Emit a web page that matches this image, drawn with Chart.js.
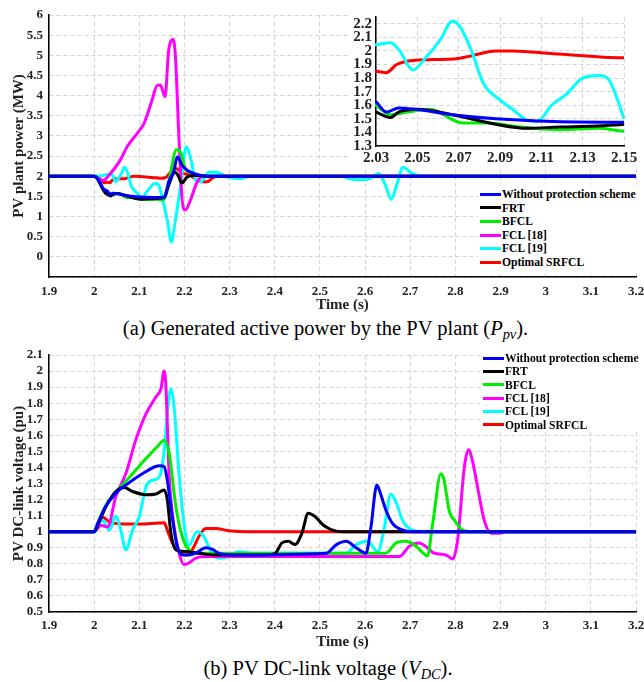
<!DOCTYPE html>
<html>
<head>
<meta charset="utf-8">
<script src="https://cdn.jsdelivr.net/npm/chart.js@4.4.0/dist/chart.umd.min.js"></script>
<style>
    body { margin: 0; background: #fff; }
    #wrap { position: relative; width: 644px; height: 682px; overflow: hidden; font-family: 'Liberation Serif', 'Times New Roman', serif; }
    canvas { position: absolute; }
    .caption { position: absolute; text-align: center; font-size: 20.5px; line-height: 1; white-space: nowrap; }
    .caption sub { font-size: 0.7em; vertical-align: -0.25em; line-height: 0; }
    .legend { position: absolute; background: #fff; font-weight: bold; font-size: 11.6px; }
    .legend .row { position: absolute; height: 14px; line-height: 14px; white-space: nowrap; }
    .legend .swatch { display: inline-block; width: 21px; height: 3px; vertical-align: middle; margin-right: 1px; position: relative; top: -1px; }
</style>
</head>
<body>
<div id="wrap">
    <canvas id="pv-chart" width="644" height="316" style="left:0;top:0"></canvas>
    <div class="legend" id="pv-legend" style="left:478px;top:185px;width:166px;height:87px"></div>
    <canvas id="inset-chart" width="292" height="151" style="left:348px;top:14px;background:#fff"></canvas>
    <div class="caption" style="left:0;width:651px;top:318px">(a) Generated active power by the PV plant (<i>P</i><sub><i>pv</i></sub>).</div>

    <canvas id="dc-chart" width="644" height="320" style="left:0;top:336px"></canvas>
    <div class="legend" id="dc-legend" style="left:480px;top:350px;width:164px;height:82px"></div>
    <div class="caption" style="left:0;width:656px;top:658px">(b) PV DC-link voltage (<i>V</i><sub><i>DC</i></sub>).</div>
</div>

<script>
const SERIES_NAMES = ['Without protection scheme', 'FRT', 'BFCL', 'FCL [18]', 'FCL [19]', 'Optimal SRFCL'];
const SERIES_COLORS = ['#0000ff', '#000000', '#00ee00', '#ff00ff', '#00ffff', '#ff0000'];

// tick labels
const TIME_TICKS = [1.9, 2, 2.1, 2.2, 2.3, 2.4, 2.5, 2.6, 2.7, 2.8, 2.9, 3, 3.1, 3.2];
const PV_TICKS = [-0.5, 0, 0.5, 1, 1.5, 2, 2.5, 3, 3.5, 4, 4.5, 5, 5.5, 6];
const DC_TICKS = [0.5, 0.6, 0.7, 0.8, 0.9, 1, 1.1, 1.2, 1.3, 1.4, 1.5, 1.6, 1.7, 1.8, 1.9, 2, 2.1];
const INSET_TIME_TICKS = [2.03, 2.05, 2.07, 2.09, 2.11, 2.13, 2.15];
const INSET_PV_TICKS = [1.3, 1.4, 1.5, 1.6, 1.7, 1.8, 1.9, 2, 2.1, 2.2];

// (a) PV plant power, MW
const pBlueT = [1.9, 2.0, 2.005, 2.01, 2.02, 2.03, 2.035, 2.041, 2.049, 2.067, 2.088, 2.116, 2.15, 2.156, 2.165, 2.177, 2.184, 2.195, 2.206, 2.221, 2.25, 3.2];
const pBlueY = [2, 2, 1.98, 1.9, 1.7, 1.625, 1.55, 1.58, 1.57, 1.53, 1.50, 1.48, 1.475, 1.49, 1.86, 2.15, 2.48, 2.27, 2.15, 2.07, 2.0, 2.0];

const pBlackT = [1.9, 2.0, 2.007, 2.018, 2.025, 2.03, 2.037, 2.041, 2.05, 2.067, 2.088, 2.103, 2.119, 2.15, 2.156, 2.165, 2.179, 2.186, 2.194, 2.206, 2.221, 2.25, 3.2];
const pBlackY = [2, 2, 1.94, 1.7, 1.58, 1.55, 1.51, 1.55, 1.57, 1.53, 1.46, 1.43, 1.44, 1.46, 1.49, 1.78, 2.1, 2.02, 1.83, 1.98, 2.02, 2.0, 2.0];

const pGreenT = [1.9, 2.0, 2.008, 2.02, 2.03, 2.037, 2.045, 2.056, 2.072, 2.084, 2.1, 2.119, 2.138, 2.15, 2.158, 2.169, 2.182, 2.191, 2.202, 2.217, 2.243, 3.2];
const pGreenY = [2, 2, 1.93, 1.68, 1.6, 1.53, 1.55, 1.57, 1.47, 1.47, 1.44, 1.42, 1.43, 1.41, 1.49, 2.07, 2.66, 2.6, 2.19, 2.07, 2.0, 2.0];

const pMagentaT = [1.9, 2.0, 2.01, 2.02, 2.036, 2.058, 2.073, 2.095, 2.11, 2.128, 2.14, 2.147, 2.157, 2.165, 2.175, 2.18, 2.188, 2.195, 2.202, 2.213, 2.227, 2.24, 3.2];
const pMagentaY = [2, 2, 1.95, 1.9, 2.07, 2.4, 2.73, 3.06, 3.3, 3.88, 4.26, 4.26, 3.97, 5.12, 5.39, 4.96, 2.9, 1.4, 1.16, 1.4, 1.83, 2.0, 2.0];

const pCyanT = [1.9, 2.0, 2.02, 2.03, 2.037, 2.041, 2.048, 2.054, 2.061, 2.067, 2.071, 2.076, 2.082, 2.09, 2.097, 2.103, 2.108, 2.115, 2.122, 2.13, 2.138, 2.143, 2.15, 2.162, 2.171, 2.18, 2.191, 2.204, 2.213, 2.225, 2.236, 2.254, 2.27, 2.295, 2.324, 2.346, 2.55, 2.563, 2.59, 2.612, 2.63, 2.645, 2.658, 2.67, 2.684, 2.704, 2.729, 3.2];
const pCyanY = [2, 2, 2.02, 2.045, 2.06, 2.01, 1.86, 1.95, 2.08, 2.22, 2.17, 2.01, 1.76, 1.64, 1.56, 1.49, 1.48, 1.6, 1.68, 1.8, 1.82, 1.78, 1.5, 0.91, 0.37, 0.91, 1.74, 2.73, 2.48, 1.9, 1.86, 2.1, 2.1, 1.98, 1.94, 2.0, 2.0, 1.95, 1.91, 1.95, 2.07, 1.78, 1.43, 1.78, 2.22, 2.07, 2.0, 2.0];

const pRedT = [1.9, 2.0, 2.01, 2.021, 2.03, 2.035, 2.04, 2.048, 2.067, 2.075, 2.088, 2.096, 2.116, 2.15, 2.16, 2.169, 2.18, 2.195, 2.213, 2.236, 2.25, 2.265, 2.28, 3.2];
const pRedY = [2, 2, 1.95, 1.84, 1.85, 1.84, 1.9, 1.93, 1.94, 1.96, 2.0, 2.0, 1.98, 1.95, 1.98, 2.1, 2.2, 2.08, 2.02, 1.86, 1.86, 1.98, 2.0, 2.0];

// (b) DC-link voltage, pu
const vBlueT = [1.9, 2.0, 2.008, 2.023, 2.048, 2.085, 2.115, 2.144, 2.155, 2.162, 2.173, 2.184, 2.195, 2.21, 2.225, 2.247, 2.262, 2.276, 2.306, 2.514, 2.536, 2.558, 2.58, 2.602, 2.613, 2.626, 2.635, 2.646, 2.661, 2.683, 2.704, 3.2];
const vBlueY = [1, 1, 1.05, 1.145, 1.24, 1.32, 1.375, 1.41, 1.405, 1.32, 1.09, 0.91, 0.855, 0.855, 0.866, 0.9, 0.89, 0.866, 0.855, 0.866, 0.918, 0.94, 0.9, 0.866, 1.03, 1.29, 1.23, 1.135, 1.05, 1.01, 1.0, 1.0];

const vBlackT = [1.9, 2.0, 2.008, 2.026, 2.048, 2.067, 2.085, 2.115, 2.137, 2.155, 2.162, 2.17, 2.181, 2.203, 2.232, 2.269, 2.379, 2.401, 2.416, 2.43, 2.445, 2.46, 2.474, 2.489, 2.508, 2.528, 2.55, 3.2];
const vBlackY = [1, 1, 1.04, 1.155, 1.25, 1.275, 1.25, 1.23, 1.235, 1.26, 1.2, 0.99, 0.887, 0.876, 0.866, 0.855, 0.855, 0.866, 0.93, 0.94, 0.92, 0.99, 1.115, 1.095, 1.04, 1.01, 1.0, 1.0];

const vGreenT = [1.9, 2.0, 2.012, 2.026, 2.056, 2.085, 2.115, 2.14, 2.155, 2.166, 2.181, 2.195, 2.21, 2.232, 2.646, 2.669, 2.69, 2.713, 2.738, 2.75, 2.768, 2.775, 2.786, 2.801, 2.816, 2.835, 3.2];
const vGreenY = [1, 1, 1.08, 1.165, 1.27, 1.36, 1.455, 1.53, 1.57, 1.49, 1.155, 0.97, 0.887, 0.866, 0.866, 0.93, 0.94, 0.91, 0.85, 1.055, 1.36, 1.32, 1.135, 1.06, 1.01, 1.0, 1.0];

const vMagentaT = [1.9, 2.0, 2.015, 2.03, 2.048, 2.07, 2.092, 2.115, 2.137, 2.148, 2.155, 2.159, 2.166, 2.177, 2.188, 2.199, 2.21, 2.225, 2.247, 2.676, 2.698, 2.72, 2.738, 2.753, 2.779, 2.794, 2.805, 2.82, 2.829, 2.838, 2.849, 2.864, 2.879, 2.897, 2.91, 3.2];
const vMagentaY = [1, 1, 1.04, 1.03, 1.22, 1.36, 1.57, 1.735, 1.84, 1.89, 2.0, 1.9, 1.36, 1.03, 0.866, 0.795, 0.805, 0.835, 0.845, 0.845, 0.91, 0.93, 0.9, 0.866, 0.855, 0.83, 0.95, 1.405, 1.51, 1.44, 1.28, 1.07, 0.99, 0.99, 1.0, 1.0];

const vCyanT = [1.9, 2.0, 2.004, 2.019, 2.034, 2.048, 2.059, 2.07, 2.085, 2.1, 2.115, 2.129, 2.144, 2.155, 2.162, 2.17, 2.177, 2.188, 2.199, 2.21, 2.228, 2.243, 2.261, 2.276, 2.298, 2.32, 2.35, 2.558, 2.58, 2.606, 2.628, 2.643, 2.657, 2.669, 2.683, 2.705, 2.73, 3.2];
const vCyanY = [1, 1, 1.03, 1.07, 1.01, 1.1, 1.01, 0.887, 1.01, 1.095, 1.28, 1.32, 1.34, 1.5, 1.735, 1.89, 1.78, 1.36, 1.05, 0.915, 1.0, 0.97, 0.866, 0.835, 0.845, 0.875, 0.866, 0.866, 0.918, 0.94, 0.876, 1.03, 1.235, 1.18, 1.07, 1.01, 1.0, 1.0];

const vRedT = [1.9, 2.0, 2.012, 2.019, 2.034, 2.056, 2.1, 2.155, 2.162, 2.173, 2.188, 2.203, 2.217, 2.232, 2.247, 2.269, 2.298, 2.342, 3.2];
const vRedY = [1, 1, 1.08, 1.09, 1.06, 1.05, 1.048, 1.055, 1.01, 0.93, 0.876, 0.855, 0.887, 0.97, 1.02, 1.02, 1.006, 1.0, 1.0];

const FONT = "'Liberation Serif', 'Times New Roman', serif";

function pts(t, y) {
    return t.map((x, i) => ({ x: x, y: y[i] }));
}

function buildDatasets(pairs, width, skip) {
    return pairs.map((p, i) => ({
        label: SERIES_NAMES[i],
        data: pts(p[0], p[1]),
        borderColor: SERIES_COLORS[i],
        backgroundColor: SERIES_COLORS[i],
        borderWidth: width,
        pointRadius: 0,
        cubicInterpolationMode: 'monotone',
        fill: false,
        hidden: skip ? skip.includes(i) : false,
        clip: 1
    }));
}

function fmt(v) {
    return String(parseFloat(v.toFixed(3)));
}

function linearAxis(o) {
    return {
        type: 'linear',
        min: o.min,
        max: o.max,
        grid: { color: '#d4d4d4', lineWidth: 1, drawTicks: false },
        border: { display: true, color: '#000', width: 1.5, dash: [4, 3] },
        ticks: {
            autoSkip: false,
            maxRotation: 0,
            padding: o.tickPad,
            color: '#222',
            font: { family: FONT, size: o.tickSize, weight: 'bold' },
            callback: o.callback || (v => fmt(v))
        },
        title: o.title ? {
            display: true,
            text: o.title,
            color: '#222',
            font: { family: FONT, size: 15, weight: 'bold', lineHeight: 1.2 },
            padding: o.titlePad
        } : { display: false },
        afterBuildTicks: s => { s.ticks = o.ticks.map(v => ({ value: v })); },
        afterFit: s => {
            if (o.width !== undefined) s.width = o.width;
            if (o.height !== undefined) s.height = o.height;
            s.paddingLeft = 0; s.paddingRight = 0; s.paddingTop = 0; s.paddingBottom = 0;
        }
    };
}

function makeChart(id, datasets, padding, xOpts, yOpts) {
    return new Chart(document.getElementById(id), {
        type: 'line',
        data: { datasets: datasets },
        options: {
            responsive: false,
            animation: false,
            devicePixelRatio: 1,
            layout: { padding: padding },
            plugins: { legend: { display: false }, tooltip: { enabled: false } },
            scales: { x: linearAxis(xOpts), y: linearAxis(yOpts) }
        }
    });
}

function renderLegend(id, rowTop, rowStep, swatchLeft) {
    const box = document.getElementById(id);
    SERIES_NAMES.forEach((name, i) => {
        const row = document.createElement('div');
        row.className = 'row';
        row.style.left = swatchLeft + 'px';
        row.style.top = (rowTop + i * rowStep - 7) + 'px';
        row.innerHTML = `<span class="swatch" style="background:${SERIES_COLORS[i]}"></span>${name}`;
        box.appendChild(row);
    });
}

const pvPairs = [[pBlueT, pBlueY], [pBlackT, pBlackY], [pGreenT, pGreenY], [pMagentaT, pMagentaY], [pCyanT, pCyanY], [pRedT, pRedY]];
const dcPairs = [[vBlueT, vBlueY], [vBlackT, vBlackY], [vGreenT, vGreenY], [vMagentaT, vMagentaY], [vCyanT, vCyanY], [vRedT, vRedY]];

// (a) power
makeChart('pv-chart', buildDatasets(pvPairs, 3), { left: 0, right: 8, top: 15, bottom: 0 },
    { min: 1.9, max: 3.2, ticks: TIME_TICKS, tickSize: 13, tickPad: 7, height: 39, title: 'Time (s)', titlePad: { top: 0, bottom: 2 } },
    { min: -0.5, max: 6, ticks: PV_TICKS, tickSize: 13, tickPad: 6, width: 49, title: 'PV plant power (MW)', titlePad: { top: 10, bottom: 0 },
      callback: v => (v < 0 ? '' : fmt(v)) });

// zoomed inset of (a), FCL [18] is off-scale there
makeChart('inset-chart', buildDatasets(pvPairs, 3, [3]), { left: 0, right: 16, top: 3, bottom: 0 },
    { min: 2.03, max: 2.15, ticks: INSET_TIME_TICKS, tickSize: 15, tickPad: 3, height: 19 },
    { min: 1.3, max: 2.25, ticks: INSET_PV_TICKS, tickSize: 15, tickPad: 4, width: 28 });

// (b) DC-link voltage
makeChart('dc-chart', buildDatasets(dcPairs, 3), { left: 0, right: 8, top: 19, bottom: 0 },
    { min: 1.9, max: 3.2, ticks: TIME_TICKS, tickSize: 13, tickPad: 6, height: 44, title: 'Time (s)', titlePad: { top: 0, bottom: 5 } },
    { min: 0.5, max: 2.1, ticks: DC_TICKS, tickSize: 13, tickPad: 6, width: 49, title: 'PV DC-link voltage (pu)', titlePad: { top: 10, bottom: 0 } });

renderLegend('pv-legend', 10, 13.6, 2);
renderLegend('dc-legend', 9, 13.3, 3);
</script>
</body>
</html>
